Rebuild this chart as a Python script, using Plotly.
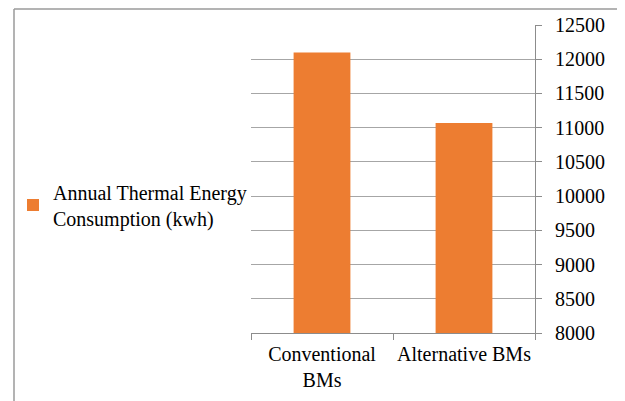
import plotly.graph_objects as go

categories = ["Conventional<br>BMs", "Alternative BMs"]
values = [12100, 11070]
series_name = "Annual Thermal Energy<br>Consumption (kwh)"
y_ticks = [8000, 8500, 9000, 9500, 10000, 10500, 11000, 11500, 12000, 12500]

W, H = 625, 401
OFF = 8  # page offset of the rendered figure
L, R, T, B = 251 - OFF, 625 - 535 + OFF, 25 - OFF, 401 - 333 + OFF
pw, ph = W - L - R, H - T - B

def px_x(x):
    return (x - OFF - L) / pw

def px_y(y):
    return (H - B - (y - OFF)) / ph

fig = go.Figure()
fig.add_trace(go.Bar(
    x=categories, y=values, name=series_name,
    marker=dict(color="#ED7D31", line=dict(width=0)),
    width=0.4, showlegend=True,
))

border = dict(color="#9a9a9a", width=1.5)
top_y = px_y(OFF + 1)
fig.update_layout(
    width=W, height=H,
    margin=dict(l=L, r=R, t=T, b=B, autoexpand=False),
    paper_bgcolor="white", plot_bgcolor="white",
    font=dict(family="Liberation Serif", size=20, color="black"),
    showlegend=True,
    legend=dict(x=px_x(13), xanchor="left", y=px_y(205), yanchor="middle",
                bgcolor="rgba(0,0,0,0)", font=dict(family="Liberation Serif", size=20)),
    bargap=0.6,
    xaxis=dict(
        showline=True, linecolor="#8c8c8c", linewidth=1,
        ticks="outside", ticklen=6, tickcolor="#8c8c8c", tickson="boundaries",
        showgrid=False, tickangle=0, automargin=False, ticklabelstandoff=3,
        tickfont=dict(family="Liberation Serif", size=20),
    ),
    yaxis=dict(
        side="right", range=[8000, 12500], tickvals=y_ticks,
        ticktext=[str(v) for v in y_ticks],
        showline=True, linecolor="#8c8c8c", linewidth=1,
        ticks="outside", ticklen=6, tickcolor="#8c8c8c",
        showgrid=True, gridcolor="#a6a6a6", gridwidth=1,
        zeroline=False, automargin=False, ticklabelstandoff=9,
        tickfont=dict(family="Liberation Serif", size=20),
    ),
    shapes=[
        dict(type="line", xref="paper", yref="paper", x0=px_x(14), x1=px_x(14),
             y0=top_y, y1=px_y(420), line=border),
        dict(type="line", xref="paper", yref="paper", x0=px_x(618), x1=px_x(618),
             y0=top_y, y1=px_y(420), line=border),
        dict(type="line", xref="paper", yref="paper", x0=px_x(14), x1=px_x(618),
             y0=top_y, y1=top_y, line=border),
    ],
)

fig.write_html("out.html")
